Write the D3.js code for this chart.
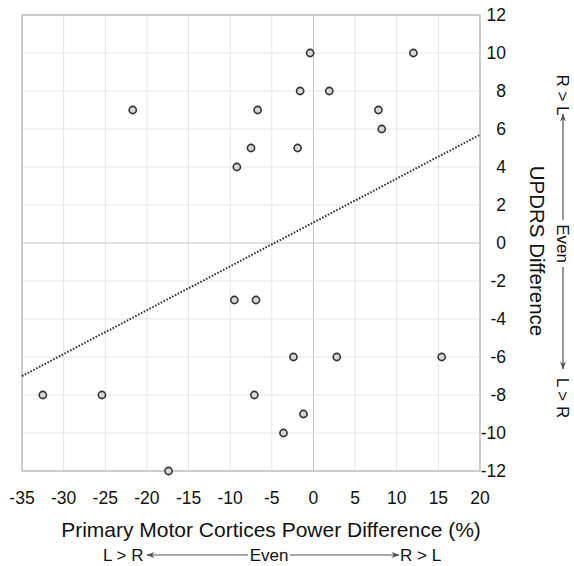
<!DOCTYPE html>
<html>
<head>
<meta charset="utf-8">
<script src="https://cdn.jsdelivr.net/npm/d3@7"></script>
<style>
  body { margin: 0; background: #fff; }
  svg { display: block; font-family: "Liberation Sans", Arial, sans-serif; }
</style>
</head>
<body>
<svg id="chart"></svg>
<script>
// power difference (%) and UPDRS difference
const powerDiff = [-21.7, -6.7, -7.5, -9.2, -1.6, -1.9, -0.4, 12, 1.9, 7.8, 8.2,
                   -9.5, -6.9, -2.4, 2.8, 15.4, -32.5, -25.4, -7.1, -1.2, -3.6, -17.4];
const updrsDiff = [7, 7, 5, 4, 8, 5, 10, 10, 8, 7, 6,
                   -3, -3, -6, -6, -6, -8, -8, -8, -9, -10, -12];
const xTicks = [-35, -30, -25, -20, -15, -10, -5, 0, 5, 10, 15, 20];
const yTicks = [-12, -10, -8, -6, -4, -2, 0, 2, 4, 6, 8, 10, 12];
// fitted line, ends at the plot edges
const trendX = [-35, 20];
const trendY = [-7.0, 5.7];

const width = 574, height = 566;
const margin = {top: 15, right: 94, bottom: 95, left: 22};

const svg = d3.select('#chart')
    .attr('width', width)
    .attr('height', height);

const x = d3.scaleLinear().domain([-35, 20]).range([margin.left, width - margin.right]);
const y = d3.scaleLinear().domain([-12, 12]).range([height - margin.bottom, margin.top]);

// grid
svg.append('g')
    .selectAll('line')
    .data(xTicks)
    .join('line')
    .attr('x1', d => x(d)).attr('x2', d => x(d))
    .attr('y1', y(12)).attr('y2', y(-12))
    .attr('stroke', d => d === 0 ? '#c4c4c4' : '#e6e6e6')
    .attr('stroke-width', 1);

svg.append('g')
    .selectAll('line')
    .data(yTicks)
    .join('line')
    .attr('x1', x(-35)).attr('x2', x(20))
    .attr('y1', d => y(d)).attr('y2', d => y(d))
    .attr('stroke', d => d === 0 ? '#c4c4c4' : '#e6e6e6')
    .attr('stroke-width', 1);

svg.append('rect')
    .attr('x', x(-35)).attr('y', y(12))
    .attr('width', x(20) - x(-35))
    .attr('height', y(-12) - y(12))
    .attr('fill', 'none')
    .attr('stroke', '#b4b4b4')
    .attr('stroke-width', 1.2);

// tick labels
svg.append('g')
    .selectAll('text')
    .data(xTicks)
    .join('text')
    .attr('x', d => x(d))
    .attr('y', 504)
    .attr('text-anchor', 'middle')
    .attr('font-size', 17.5)
    .attr('fill', '#111')
    .text(d => d);

svg.append('g')
    .selectAll('text')
    .data(yTicks)
    .join('text')
    .attr('x', 506)
    .attr('y', d => y(d))
    .attr('dy', '0.36em')
    .attr('text-anchor', 'end')
    .attr('font-size', 17.5)
    .attr('fill', '#111')
    .text(d => d);

// trend line
svg.append('line')
    .attr('x1', x(trendX[0])).attr('y1', y(trendY[0]))
    .attr('x2', x(trendX[1])).attr('y2', y(trendY[1]))
    .attr('stroke', '#333')
    .attr('stroke-width', 2)
    .attr('stroke-dasharray', '1.6,1.6');

// points
svg.append('g')
    .selectAll('circle')
    .data(powerDiff.map((p, i) => [p, updrsDiff[i]]))
    .join('circle')
    .attr('cx', d => x(d[0]))
    .attr('cy', d => y(d[1]))
    .attr('r', 3.6)
    .attr('fill', '#d8d8d8')
    .attr('stroke', '#333')
    .attr('stroke-width', 1.6);

// axis titles
svg.append('text')
    .attr('x', 271)
    .attr('y', 537)
    .attr('text-anchor', 'middle')
    .attr('font-size', 21)
    .attr('fill', '#111')
    .text('Primary Motor Cortices Power Difference (%)');

svg.append('text')
    .attr('transform', `translate(530, 251) rotate(90)`)
    .attr('text-anchor', 'middle')
    .attr('font-size', 20.5)
    .attr('fill', '#111')
    .text('UPDRS Difference');

// direction annotations
const defs = svg.append('defs');
defs.append('marker')
    .attr('id', 'head')
    .attr('viewBox', '0 0 10 10')
    .attr('refX', 9).attr('refY', 5)
    .attr('markerWidth', 7).attr('markerHeight', 7)
    .attr('orient', 'auto')
    .append('path')
    .attr('d', 'M0,1.5 L10,5 L0,8.5 L3,5 Z')
    .attr('fill', '#555');

const ann = svg.append('g').attr('font-size', 17).attr('fill', '#111');
ann.append('text').attr('x', 103).attr('y', 561).text('L > R');
ann.append('text').attr('x', 269).attr('y', 561).attr('text-anchor', 'middle').text('Even');
ann.append('text').attr('x', 400).attr('y', 561).text('R > L');
ann.append('line')
    .attr('x1', 248).attr('y1', 555).attr('x2', 147).attr('y2', 555)
    .attr('stroke', '#555').attr('stroke-width', 1.2).attr('marker-end', 'url(#head)');
ann.append('line')
    .attr('x1', 290).attr('y1', 555).attr('x2', 399).attr('y2', 555)
    .attr('stroke', '#555').attr('stroke-width', 1.2).attr('marker-end', 'url(#head)');

const side = svg.append('g').attr('font-size', 17).attr('fill', '#111');
side.append('text').attr('transform', 'translate(557, 95) rotate(90)')
    .attr('text-anchor', 'middle').text('R > L');
side.append('text').attr('transform', 'translate(557, 243.5) rotate(90)')
    .attr('text-anchor', 'middle').text('Even');
side.append('text').attr('transform', 'translate(557, 398) rotate(90)')
    .attr('text-anchor', 'middle').text('L > R');
side.append('line')
    .attr('x1', 563).attr('y1', 220).attr('x2', 563).attr('y2', 114)
    .attr('stroke', '#555').attr('stroke-width', 1.2).attr('marker-end', 'url(#head)');
side.append('line')
    .attr('x1', 563).attr('y1', 267).attr('x2', 563).attr('y2', 369)
    .attr('stroke', '#555').attr('stroke-width', 1.2).attr('marker-end', 'url(#head)');
</script>
</body>
</html>
